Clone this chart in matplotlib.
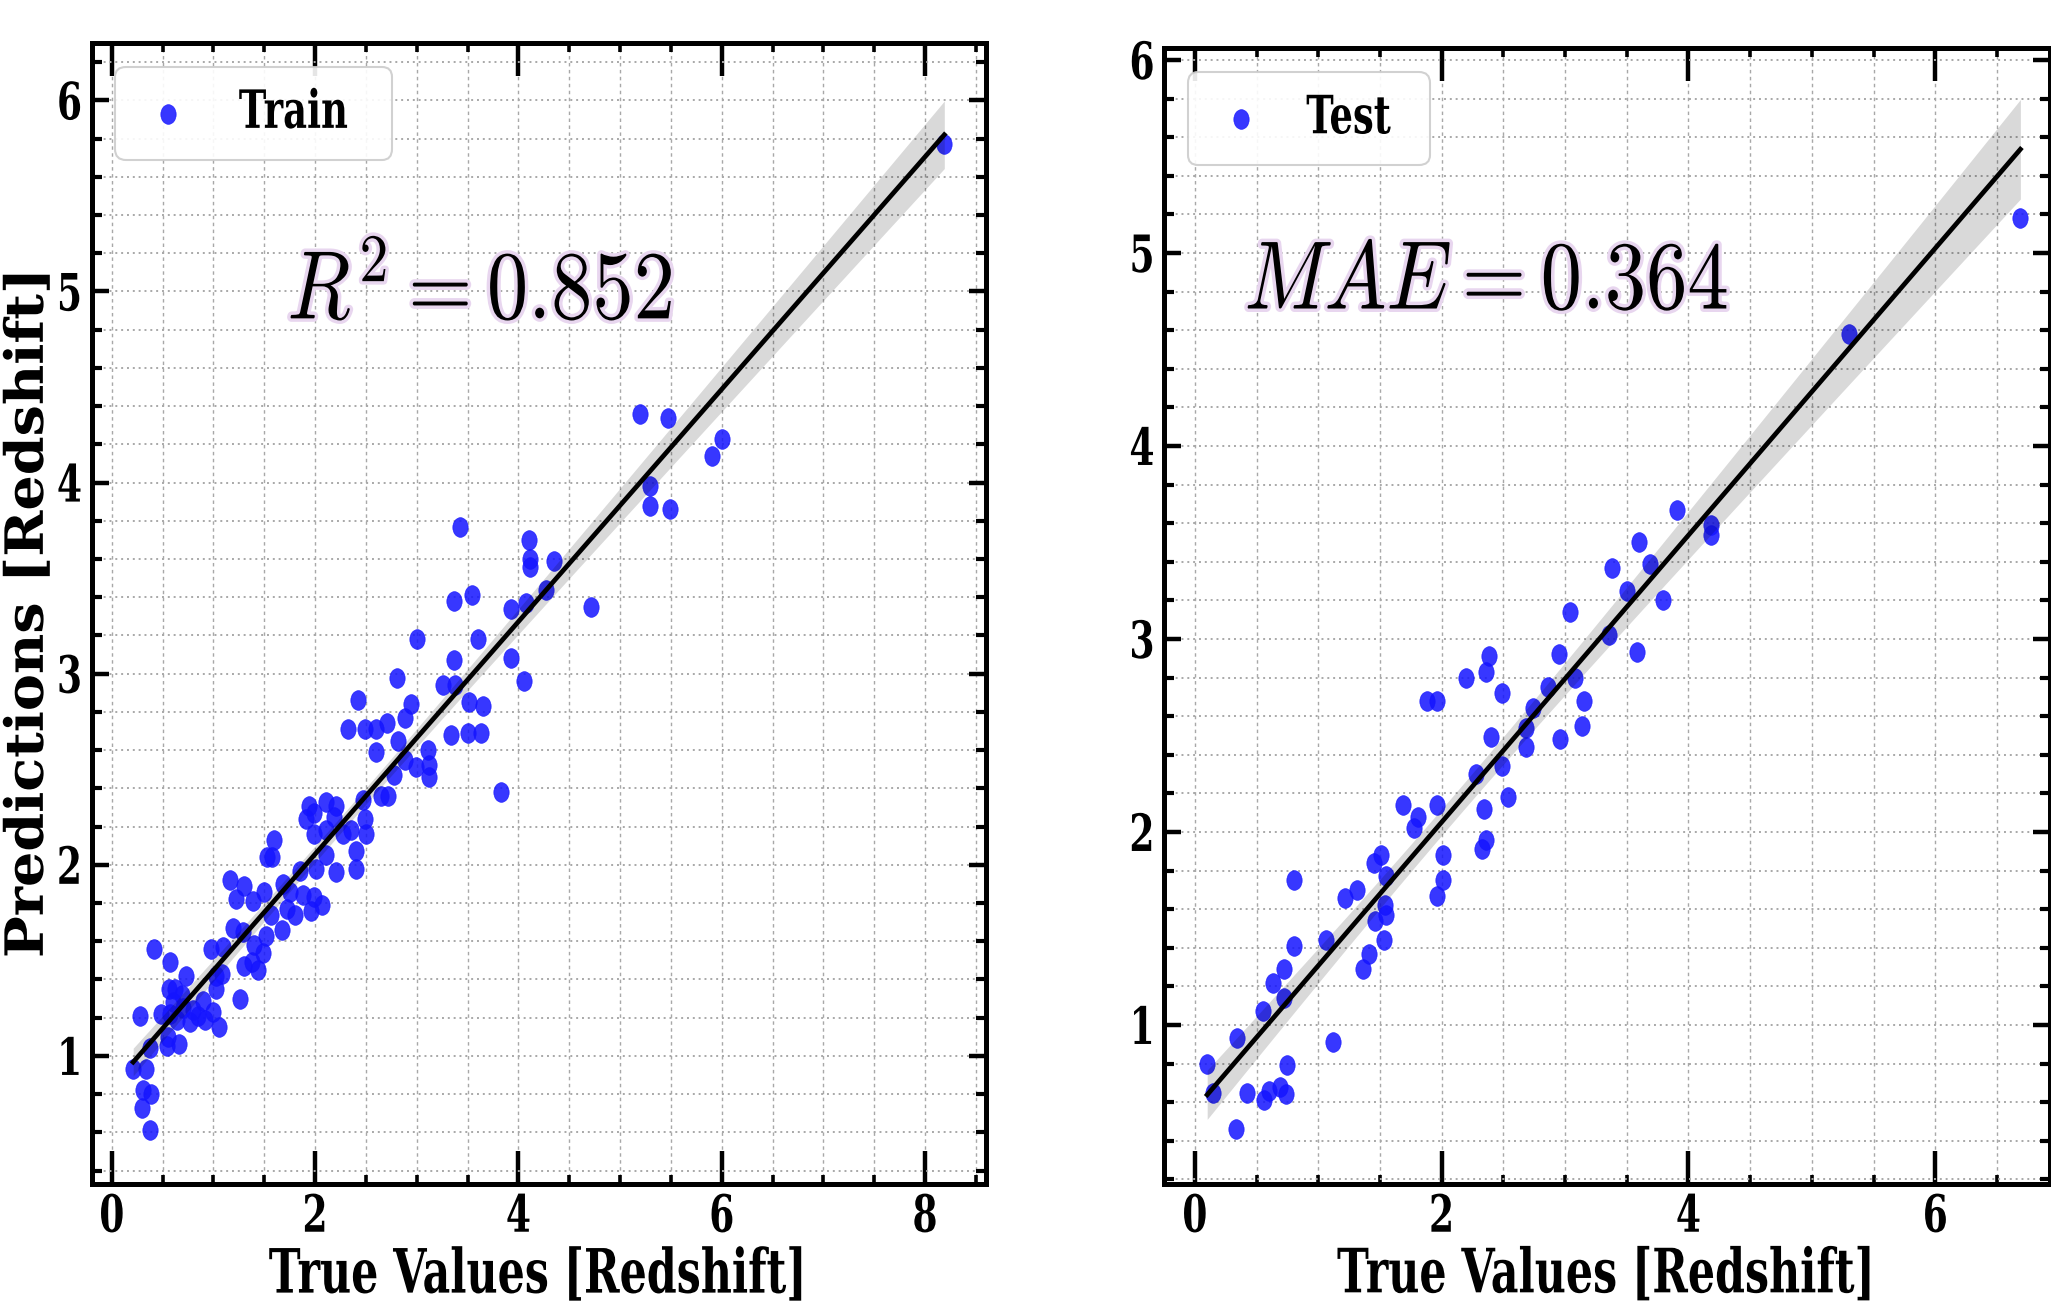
import numpy as np
import matplotlib
matplotlib.use('Agg')
import matplotlib.pyplot as plt
import matplotlib.patheffects as pe
from matplotlib.path import Path
from matplotlib.transforms import Affine2D
from matplotlib.ticker import MultipleLocator

# values
train_true = [0.38, 0.30, 0.31, 0.39, 0.21, 0.34, 0.38, 0.54, 0.66, 0.55, 0.28, 0.48, 0.57, 0.64,
              0.77, 0.85, 0.92, 1.00, 1.05, 0.70, 0.80, 0.60, 0.90, 0.56, 0.62, 0.69, 0.73, 1.02,
              1.02, 1.08, 1.26, 0.57, 1.30, 1.38, 1.44, 0.41, 1.49,
              0.98, 1.09, 1.19, 1.29, 1.40, 1.52, 1.67,
              1.16, 1.30, 1.50, 1.22, 1.39, 1.68, 1.75, 1.88, 1.99, 2.07, 1.96, 1.72, 1.80, 1.57,
              1.60, 1.53, 1.58, 2.11, 2.01, 2.21, 1.85, 2.40, 2.40,
              1.94, 2.11, 2.21, 1.91, 1.99, 2.19, 2.11, 1.99, 2.27, 2.35,
              2.65, 2.72, 2.47, 2.49, 2.50,
              2.78, 2.99, 2.88, 3.11, 3.12, 3.12, 2.60, 2.82, 3.34,
              2.32, 2.49, 2.60, 2.71, 2.88, 2.42, 2.94,
              2.81, 3.26, 3.38, 3.51, 3.65, 3.50, 3.63, 3.83,
              3.00, 3.60, 3.37, 3.93, 4.05,
              3.37, 3.54, 3.93, 4.07, 4.27, 4.71,
              4.10, 4.11, 4.11, 4.35, 3.43,
              5.20, 5.47, 5.29, 5.29, 5.49, 5.90, 6.00, 8.19]
train_pred = [0.61, 0.73, 0.82, 0.80, 0.93, 0.93, 1.04, 1.05, 1.06, 1.10, 1.21, 1.22, 1.22, 1.19,
              1.18, 1.21, 1.19, 1.23, 1.15, 1.25, 1.24, 1.28, 1.29, 1.35, 1.35, 1.32, 1.42, 1.35,
              1.42, 1.43, 1.30, 1.49, 1.47, 1.49, 1.45, 1.56, 1.54,
              1.56, 1.57, 1.67, 1.65, 1.58, 1.63, 1.66,
              1.92, 1.89, 1.86, 1.82, 1.81, 1.90, 1.86, 1.84, 1.83, 1.79, 1.76, 1.77, 1.74, 1.74,
              2.13, 2.04, 2.04, 2.05, 1.98, 1.96, 1.97, 2.07, 1.98,
              2.31, 2.33, 2.31, 2.24, 2.27, 2.25, 2.18, 2.16, 2.16, 2.18,
              2.36, 2.36, 2.34, 2.24, 2.16,
              2.47, 2.51, 2.55, 2.60, 2.52, 2.46, 2.59, 2.65, 2.68,
              2.71, 2.71, 2.71, 2.74, 2.77, 2.86, 2.84,
              2.98, 2.94, 2.94, 2.85, 2.83, 2.69, 2.69, 2.38,
              3.18, 3.18, 3.07, 3.08, 2.96,
              3.38, 3.41, 3.34, 3.37, 3.44, 3.35,
              3.70, 3.60, 3.56, 3.59, 3.77,
              4.36, 4.34, 3.98, 3.88, 3.86, 4.14, 4.23, 5.77]

test_true = [0.33, 0.10, 0.15, 0.34, 0.42, 0.56, 0.60, 0.69, 0.74, 0.75, 0.55, 0.72, 0.63, 0.72,
             0.80, 1.12, 1.06, 1.36, 1.41, 1.53, 1.46, 1.55, 1.54, 1.22, 1.31, 1.96, 0.80,
             2.38, 2.36, 2.20, 2.49, 1.88, 1.96, 2.95, 3.08, 2.86, 3.15, 2.74, 3.14, 2.68, 2.68,
             2.96, 2.40, 2.49, 2.28, 2.54, 1.96, 1.69, 2.34, 1.81, 1.78, 2.36, 2.33, 1.51, 1.45,
             2.01, 1.55, 2.01,
             3.91, 4.18, 4.18, 3.60, 3.69, 3.38, 3.50, 3.79, 3.04, 3.36, 3.58,
             5.30, 6.69]
test_pred = [0.46, 0.80, 0.65, 0.93, 0.65, 0.61, 0.66, 0.68, 0.64, 0.79, 1.07, 1.14, 1.22, 1.29,
             1.41, 0.91, 1.44, 1.29, 1.37, 1.44, 1.54, 1.57, 1.62, 1.66, 1.70, 1.67, 1.75,
             2.91, 2.83, 2.80, 2.72, 2.68, 2.68, 2.92, 2.80, 2.75, 2.68, 2.64, 2.55, 2.54, 2.44,
             2.48, 2.49, 2.34, 2.30, 2.18, 2.14, 2.14, 2.12, 2.08, 2.02, 1.96, 1.91, 1.88, 1.84,
             1.88, 1.77, 1.75,
             3.67, 3.59, 3.54, 3.50, 3.39, 3.37, 3.25, 3.20, 3.14, 3.02, 2.93,
             4.58, 5.18]

train_label = 'Train'
test_label = 'Test'
train_score = r'$R^2 = 0.852$'
test_score = r'$MAE = 0.364$'
x_title = 'True Values [Redshift]'
y_title = 'Predictions [Redshift]'


class Squeeze(pe.AbstractPathEffect):
    # narrows drawn text along the screen x direction, about its own centre
    def __init__(self, sx, inner=None):
        super().__init__()
        self.sx = sx
        self.inner = inner if inner is not None else pe.Normal()

    def draw_path(self, renderer, gc, tpath, affine, rgbFace=None):
        ext = tpath.get_extents(affine)
        cx = 0.5 * (ext.x0 + ext.x1)
        aff = affine + Affine2D().translate(-cx, 0).scale(self.sx, 1).translate(cx, 0)
        self.inner.draw_path(renderer, gc, tpath, aff, rgbFace)


SX = 0.7
plt.rcParams['font.family'] = ['DejaVu Serif']
plt.rcParams['font.weight'] = 'bold'
plt.rcParams['mathtext.fontset'] = 'cm'

dot = Path.unit_circle().transformed(Affine2D().scale(0.78, 1.0))


def fit_band(x, y, xs):
    x = np.asarray(x)
    y = np.asarray(y)
    n = len(x)
    b, a = np.polyfit(x, y, 1)
    resid = y - (a + b * x)
    s = np.sqrt(np.sum(resid ** 2) / (n - 2))
    se = s * np.sqrt(1 / n + (xs - x.mean()) ** 2 / np.sum((x - x.mean()) ** 2))
    yhat = a + b * xs
    return yhat, yhat - 1.98 * se, yhat + 1.98 * se


def panel(ax, xv, yv, label, score, score_xy, xlim, ylim):
    ax.scatter(xv, yv, s=200, marker=dot, color='#1414ff', alpha=0.85,
               edgecolors='#1414ff', linewidths=0.5, label=label, zorder=2)
    xs = np.linspace(min(xv), max(xv), 100)
    yhat, lo, hi = fit_band(xv, yv, xs)
    ax.fill_between(xs, lo, hi, color='black', alpha=0.15, lw=0, zorder=2)
    ax.plot(xs, yhat, color='black', lw=3.4, zorder=3)

    ax.set_xlim(*xlim)
    ax.set_ylim(*ylim)
    ax.xaxis.set_major_locator(MultipleLocator(2))
    ax.xaxis.set_minor_locator(MultipleLocator(0.5))
    ax.yaxis.set_major_locator(MultipleLocator(1))
    ax.yaxis.set_minor_locator(MultipleLocator(0.2))

    ax.set_axisbelow(True)
    ax.grid(True, which='both', axis='x', linestyle=(0, (2.5, 2.5)), color='#a8a8a8', lw=1.0)
    ax.grid(True, which='both', axis='y', linestyle=(0, (1, 2)), color='#a8a8a8', lw=1.4)

    for sp in ax.spines.values():
        sp.set_linewidth(3.6)
    ax.tick_params(which='both', direction='in', top=True, right=True, colors='black')
    ax.tick_params(axis='x', which='major', length=24, width=3.2, labelsize=37, pad=7)
    ax.tick_params(axis='x', which='minor', length=6.5, width=2.6)
    ax.tick_params(axis='y', which='major', length=12, width=3.2, labelsize=37, pad=3)
    ax.tick_params(axis='y', which='minor', length=7, width=3.0)

    ax.set_xlabel(x_title, fontsize=44, fontweight='bold')
    ax.xaxis.set_label_coords(0.5, -0.054)

    leg = ax.legend(loc='upper left', fontsize=38, markerscale=1.0, borderpad=0.4,
                    handlelength=1.2, handletextpad=0.3, borderaxespad=0.45,
                    fancybox=True, framealpha=0.9, edgecolor='#cccccc')
    leg.get_frame().set_linewidth(1.5)

    ax.text(score_xy[0], score_xy[1], score, fontsize=70, ha='center', va='center',
            path_effects=[Squeeze(0.85, pe.Stroke(linewidth=5, foreground='#e8d6ef')),
                          Squeeze(0.85)])
    return leg


fig = plt.figure(figsize=(20.51, 13.05), dpi=100)
ax1 = fig.add_axes([91.5 / 2051, 121 / 1305, 894.5 / 2051, 1141 / 1305])
ax2 = fig.add_axes([1164 / 2051, 121 / 1305, 886 / 2051, 1135.6 / 1305])

leg1 = panel(ax1, train_true, train_pred, train_label, train_score, (3.62, 5.0),
             (-0.2, 8.6), (0.33, 6.30))
leg2 = panel(ax2, test_true, test_pred, test_label, test_score, (2.36, 4.85),
             (-0.25, 6.93), (0.176, 6.06))

ax1.set_ylabel(y_title, fontsize=40, fontweight='bold')
ax1.yaxis.set_label_coords(-0.040, 0.5)

fig.canvas.draw()
texts = []
for ax in (ax1, ax2):
    texts += ax.get_xticklabels() + ax.get_yticklabels()
    texts += [ax.xaxis.label]
texts += leg1.get_texts() + leg2.get_texts()
for t in texts:
    t.set_path_effects([Squeeze(SX)])
ax1.yaxis.label.set_path_effects([Squeeze(0.95)])

fig.savefig('out.png', dpi=100)
